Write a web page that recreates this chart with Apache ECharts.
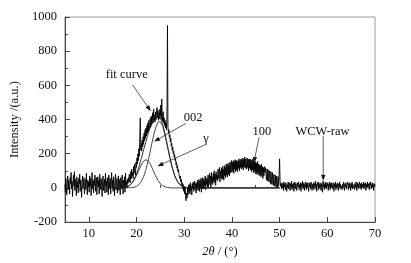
<!DOCTYPE html>
<html>
<head>
<meta charset="utf-8">
<script src="https://cdn.jsdelivr.net/npm/echarts@6/dist/echarts.min.js"></script>
<style>
  html, body { margin: 0; padding: 0; background: #fff; }
  #chart { width: 411px; height: 263px; }
</style>
</head>
<body>
<div id="chart"></div>
<script>
// raw XRD trace: one value every 0.1 deg from 5 to 70
// (one row per degree)
const rawStart = 5
const rawStep = 0.1
const rawIntensity = [
  20, -25, 55, 5, -40, 35, 70, -10, 45, 15, // 5
  -35, 60, 25, 90, -5, 40, -50, 30, 75, 10, // 6
  95, -15, 50, 20, -45, 65, 0, 35, -30, 55, // 7
  25, 80, -20, 45, 10, -55, 40, 70, -5, 30, // 8
  60, -35, 15, 50, -10, 85, 20, -40, 45, 5, // 9
  35, -25, 70, 10, 55, -45, 25, 90, -5, 40, // 10
  -30, 50, 15, 75, -20, 35, 60, -40, 20, 65, // 11
  5, 45, -35, 80, 30, -10, 55, 15, -50, 40, // 12
  70, -15, 25, 50, -30, 85, 10, 40, -25, 60, // 13
  20, -40, 75, 35, -5, 55, -35, 30, 90, 0, // 14
  45, -20, 65, 15, -45, 40, 80, -10, 30, 55, // 15
  -30, 25, 70, -15, 50, 10, -40, 60, 35, -5, // 16
  75, 20, -35, 45, 5, 65, -25, 85, 15, 40, // 17
  0, 50, 25, 60, 35, 80, 45, 30, 95, 55, // 18
  110, 70, 90, 55, 125, 85, 140, 100, 75, 150, // 19
  120, 175, 140, 200, 160, 230, 185, 300, 410, 220, // 20
  260, 215, 280, 240, 300, 255, 320, 275, 340, 290, // 21
  350, 305, 365, 320, 380, 330, 395, 345, 370, 410, // 22
  355, 420, 370, 390, 440, 380, 460, 395, 425, 385, // 23
  445, 400, 430, 470, 410, 455, 395, 440, 405, 460, // 24
  420, 485, 400, 520, 430, 390, 445, 380, 410, 365, // 25
  395, 350, 380, 340, 430, 950, 360, 320, 340, 295, // 26
  310, 270, 290, 245, 260, 220, 240, 200, 215, 180, // 27
  195, 160, 175, 135, 150, 115, 130, 95, 110, 80, // 28
  90, 55, 70, 35, 50, 15, 30, -5, 20, -20, // 29
  10, -35, 5, -50, -75, -30, -60, 0, -40, 15, // 30
  -25, 20, -35, 30, -15, 10, -40, 25, -5, 35, // 31
  -20, 15, 40, -10, 25, -30, 30, 5, 45, -15, // 32
  -10, 50, -20, 40, 0, 55, -25, 35, 60, -5, // 33
  55, -5, 45, 10, 70, -10, 60, 20, 50, 5, // 34
  75, 10, 60, 85, 20, 70, 5, 90, 30, 65, // 35
  20, 85, 40, 100, 30, 80, 15, 95, 50, 75, // 36
  40, 110, 55, 95, 120, 35, 100, 60, 115, 50, // 37
  125, 55, 110, 45, 130, 70, 120, 60, 140, 75, // 38
  130, 65, 145, 80, 135, 70, 150, 90, 140, 160, // 39
  90, 150, 100, 160, 85, 155, 110, 165, 95, 160, // 40
  105, 160, 95, 155, 115, 170, 100, 160, 120, 170, // 41
  110, 165, 120, 175, 105, 170, 125, 180, 115, 170, // 42
  165, 110, 175, 120, 170, 100, 165, 115, 170, 105, // 43
  165, 95, 160, 105, 170, 90, 155, 100, 165, 85, // 44
  150, 80, 145, 90, 155, 75, 140, 85, 135, 70, // 45
  130, 65, 140, 75, 125, 55, 120, 70, 60, 125, // 46
  90, 115, 60, 45, 110, 40, 105, 50, 35, 100, // 47
  85, 25, 95, 35, 20, 90, 30, 15, 80, 25, // 48
  10, 75, 20, 5, 70, 15, 0, 65, 10, 80, // 49
  170, 40, 10, 25, -5, 30, 0, 20, -15, 35, // 50
  5, 25, -10, 30, 10, -20, 20, 0, 35, -5, // 51
  15, 30, -15, 25, 5, 40, -10, 20, 0, 30, // 52
  -20, 15, 35, -5, 25, 10, -15, 30, 5, 20, // 53
  35, -10, 20, 0, 30, -20, 25, 10, 40, -5, // 54
  15, 30, -15, 20, 5, 35, -10, 25, 0, 30, // 55
  10, -20, 30, 5, 25, -5, 35, 15, -15, 20, // 56
  0, 30, -10, 25, 10, 40, -5, 20, -20, 30, // 57
  15, 35, -10, 20, 0, 30, 5, -15, 25, 10, // 58
  -25, 40, 5, 30, -10, 20, 0, 35, -5, 25, // 59
  10, 30, -15, 20, 5, 35, -10, 25, 0, 30, // 60
  15, -5, 30, 10, -20, 25, 5, 35, -10, 20, // 61
  0, 30, 10, -15, 25, 5, 35, -5, 20, 10, // 62
  30, -10, 20, 0, 35, 10, -15, 25, 5, 30, // 63
  -5, 20, 10, 35, -10, 25, 0, 30, 15, -15, // 64
  25, 5, 35, -5, 20, 10, 30, -10, 25, 0, // 65
  35, 10, -15, 30, 5, 20, -5, 35, 15, 0, // 66
  25, -10, 30, 5, 20, 0, 35, -5, 25, 10, // 67
  30, -15, 20, 5, 35, 0, 25, 10, -10, 30, // 68
  15, 35, -5, 20, 0, 30, 10, -15, 25, 5, // 69
  20 // 70
]

// fitted peaks
const fitAngle = [15, 16, 17, 18, 18.5, 19, 19.5, 20, 20.5, 21, 21.5, 22, 22.5, 23, 23.5, 24,
  24.5, 25, 25.5, 26, 26.5, 27, 27.5, 28, 28.5, 29, 29.5, 30, 30.5, 31, 32, 50]
const gammaPeak = [0, 0, 1, 6, 13, 25, 45, 72, 103, 134, 157, 165, 157, 134, 103, 72,
  45, 25, 13, 6, 3, 1, 0, 0, 0, 0, 0, 0, 0, 0, 0, 0]
const peak002 = [0, 0, 0, 1, 1, 2, 4, 9, 19, 37, 66, 108, 165, 230, 296, 351,
  384, 388, 360, 308, 243, 177, 119, 73, 42, 22, 11, 5, 2, 1, 0, 0]
const fitCurve = [0, 0, 1, 7, 14, 27, 49, 81, 122, 171, 223, 273, 322, 364, 399, 423,
  429, 413, 373, 314, 246, 178, 119, 73, 42, 22, 11, 5, 2, 1, 0, 0]

const xMajorTicks = [10, 20, 30, 40, 50, 60, 70]
const xMinorTicks = [15, 25, 35, 45, 55, 65]

// annotation text + arrow, in data coordinates
const notes = [
  { text: 'fit curve', at: [17.96, 660], from: [19.2, 602], to: [23.0, 449] },
  { text: '002', at: [31.9, 411], from: [30.3, 377], to: [23.7, 271] },
  { text: 'γ', at: [34.6, 286], from: [34.35, 252], to: [24.4, 127] },
  { text: '100', at: [46.3, 330], from: [45.7, 296], to: [44.6, 146] },
  { text: 'WCW-raw', at: [59.0, 330], from: [59.15, 302], to: [59.15, 42] }
]

const serif = 'Liberation Serif'
const ink = '#111'

function pairs (xs, ys) {
  return ys.map((v, i) => [xs[i], v])
}

const rawData = rawIntensity.map((v, i) => [+(rawStart + i * rawStep).toFixed(2), v])

const chart = echarts.init(document.getElementById('chart'), null, { renderer: 'canvas' })

chart.setOption({
  animation: false,
  backgroundColor: '#fff',
  grid: {
    left: 59,
    right: 36,
    top: 17,
    bottom: 38,
    show: true,
    borderColor: '#9a9a9a',
    borderWidth: 1
  },
  xAxis: [
    {
      type: 'value',
      min: 5,
      max: 70,
      position: 'bottom',
      name: '{it|2θ} / (°)',
      nameLocation: 'middle',
      nameGap: 20,
      nameTextStyle: {
        color: ink,
        fontFamily: serif,
        fontSize: 12.5,
        rich: { it: { fontStyle: 'italic', fontFamily: serif, fontSize: 12.5, color: ink } }
      },
      axisLine: { onZero: false, lineStyle: { color: '#444', width: 1 } },
      axisTick: { inside: true, length: 5, customValues: xMajorTicks, lineStyle: { color: '#444' } },
      axisLabel: { customValues: xMajorTicks, margin: 5, color: ink, fontFamily: serif, fontSize: 12.5 },
      splitLine: { show: false }
    },
    {
      type: 'value',
      min: 5,
      max: 70,
      position: 'bottom',
      axisLine: { show: false },
      axisTick: { inside: true, length: 3, customValues: xMinorTicks, lineStyle: { color: '#444' } },
      axisLabel: { show: false },
      splitLine: { show: false }
    }
  ],
  yAxis: {
    type: 'value',
    min: -200,
    max: 1000,
    interval: 200,
    name: 'Intensity /(a.u.)',
    nameLocation: 'middle',
    nameGap: 35,
    nameRotate: 90,
    nameTextStyle: { color: ink, fontFamily: serif, fontSize: 12.5 },
    axisLine: { show: true, onZero: false, lineStyle: { color: '#444', width: 1 } },
    axisTick: { inside: true, length: 5, lineStyle: { color: '#444' } },
    minorTick: { show: true, splitNumber: 2, length: 3, lineStyle: { color: '#444' } },
    axisLabel: {
      margin: 8,
      color: ink,
      fontFamily: serif,
      fontSize: 12.5,
      formatter: v => String(v)
    },
    splitLine: { show: false }
  },
  series: [
    {
      name: 'γ',
      type: 'line',
      data: pairs(fitAngle, gammaPeak),
      symbol: 'none',
      lineStyle: { color: '#333', width: 0.9 },
      z: 2
    },
    {
      name: '002',
      type: 'line',
      data: pairs(fitAngle, peak002),
      symbol: 'none',
      lineStyle: { color: '#333', width: 0.9 },
      z: 2
    },
    {
      name: 'WCW-raw',
      type: 'line',
      data: rawData,
      symbol: 'none',
      lineStyle: { color: '#000', width: 0.9 },
      z: 3
    },
    {
      name: 'fit curve',
      type: 'line',
      data: pairs(fitAngle, fitCurve),
      symbol: 'none',
      lineStyle: { color: '#222', width: 0.9 },
      z: 4
    }
  ]
})

// annotations: placed with the chart's own scales
const graphics = []
notes.forEach(n => {
  const p = chart.convertToPixel({ xAxisIndex: 0, yAxisIndex: 0 }, n.at)
  const a = chart.convertToPixel({ xAxisIndex: 0, yAxisIndex: 0 }, n.from)
  const b = chart.convertToPixel({ xAxisIndex: 0, yAxisIndex: 0 }, n.to)
  const dx = b[0] - a[0]
  const dy = b[1] - a[1]
  const len = Math.sqrt(dx * dx + dy * dy)
  const ux = dx / len
  const uy = dy / len
  const hl = 6
  const hw = 2.2
  const bx = b[0] - ux * hl
  const by = b[1] - uy * hl
  graphics.push({
    type: 'text',
    z: 10,
    style: {
      text: n.text,
      x: p[0],
      y: p[1],
      textAlign: 'center',
      textVerticalAlign: 'middle',
      font: '12.5px "Liberation Serif"',
      fill: ink
    }
  })
  graphics.push({
    type: 'line',
    z: 10,
    shape: { x1: a[0], y1: a[1], x2: bx, y2: by },
    style: { stroke: '#333', lineWidth: 0.8 }
  })
  graphics.push({
    type: 'polygon',
    z: 10,
    shape: {
      points: [
        [b[0], b[1]],
        [bx - uy * hw, by + ux * hw],
        [bx + uy * hw, by - ux * hw]
      ]
    },
    style: { fill: '#111' }
  })
})
chart.setOption({ graphic: graphics })
</script>
</body>
</html>
